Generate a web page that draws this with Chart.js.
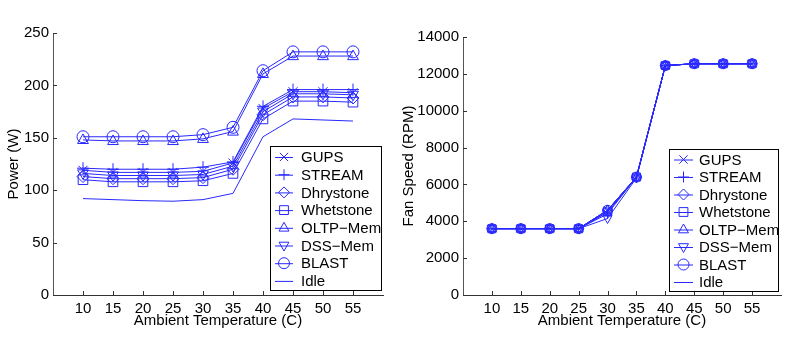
<!DOCTYPE html>
<html>
<head>
<meta charset="utf-8">
<script src="https://cdn.jsdelivr.net/npm/chart.js@4/dist/chart.umd.min.js"></script>
<style>
  html, body { margin: 0; padding: 0; background: #fff; }
  .wrap { position: absolute; top: 0; width: 400px; height: 342px; }
</style>
</head>
<body>
<div class="wrap" style="left:0"><canvas id="powerChart" width="400" height="342"></canvas></div>
<div class="wrap" style="left:400px"><canvas id="fanChart" width="400" height="342"></canvas></div>
<script>
const temps = [10, 15, 20, 25, 30, 35, 40, 45, 50, 55];
const seriesNames = ["GUPS", "STREAM", "Dhrystone", "Whetstone", "OLTP\u2212Mem", "DSS\u2212Mem", "BLAST", "Idle"];
const powerTicks = [0, 50, 100, 150, 200, 250];
const fanTicks = [0, 2000, 4000, 6000, 8000, 10000, 12000, 14000];

// power (W)
const powerGUPS      = [119, 117, 117, 117, 118, 126, 178, 194, 194, 193];
const powerSTREAM    = [121, 120, 120, 120, 122, 127, 180, 196, 196, 196];
const powerDhrystone = [113, 111, 111, 111, 112, 120, 172, 189, 189, 188];
const powerWhetstone = [110, 108, 108, 108, 109, 116, 168, 185, 185, 184];
const powerOLTP      = [148, 147, 147, 147, 149, 156, 211, 228, 228, 228];
const powerDSS       = [116, 114, 114, 114, 115, 123, 175, 192, 192, 191];
const powerBLAST     = [151, 151, 151, 151, 153, 160, 214, 232, 232, 232];
const powerIdle      = [92, 91, 90, 89.5, 91, 97, 151, 168, 167, 166];

// fan speed (RPM)
const fanGUPS      = [3600, 3600, 3600, 3600, 4600, 6400, 12450, 12550, 12550, 12550];
const fanSTREAM    = [3600, 3600, 3600, 3600, 4400, 6400, 12450, 12550, 12550, 12550];
const fanDhrystone = [3600, 3600, 3600, 3600, 4600, 6400, 12450, 12550, 12550, 12550];
const fanWhetstone = [3600, 3600, 3600, 3600, 4500, 6400, 12450, 12550, 12550, 12550];
const fanOLTP      = [3600, 3600, 3600, 3600, 4600, 6400, 12450, 12550, 12550, 12550];
const fanDSS       = [3600, 3600, 3600, 3600, 4150, 6350, 12450, 12550, 12550, 12550];
const fanBLAST     = [3600, 3600, 3600, 3600, 4600, 6400, 12450, 12550, 12550, 12550];
const fanIdle      = [3600, 3600, 3600, 3600, 4500, 6400, 12450, 12550, 12550, 12550];

const markerStyles = ["crossRot", "cross", "diamond", "square", "triUp", "triDown", "circle", "none"];
const BLUE = "rgb(40,40,255)";
const FONT = { family: "'Liberation Sans', Arial, Helvetica, sans-serif", size: 15 };

function drawMarker(ctx, style, x, y, r) {
    ctx.beginPath();
    if (style === "circle") {
        ctx.arc(x, y, r, 0, Math.PI * 2);
    } else if (style === "square") {
        const s = r * 0.8;
        ctx.rect(x - s, y - s, 2 * s, 2 * s);
    } else if (style === "diamond") {
        ctx.moveTo(x, y - r); ctx.lineTo(x + r, y); ctx.lineTo(x, y + r); ctx.lineTo(x - r, y); ctx.closePath();
    } else if (style === "triUp") {
        ctx.moveTo(x, y - r); ctx.lineTo(x + r * 0.9, y + r * 0.6); ctx.lineTo(x - r * 0.9, y + r * 0.6); ctx.closePath();
    } else if (style === "triDown") {
        ctx.moveTo(x, y + r); ctx.lineTo(x + r * 0.9, y - r * 0.6); ctx.lineTo(x - r * 0.9, y - r * 0.6); ctx.closePath();
    } else if (style === "cross") {
        ctx.moveTo(x - r, y); ctx.lineTo(x + r, y); ctx.moveTo(x, y - r); ctx.lineTo(x, y + r);
    } else if (style === "crossRot") {
        const s = r * 0.75;
        ctx.moveTo(x - s, y - s); ctx.lineTo(x + s, y + s); ctx.moveTo(x - s, y + s); ctx.lineTo(x + s, y - s);
    }
    ctx.stroke();
}

// markers drawn by hand so the down triangle and open shapes look like MATLAB
const markerPlugin = {
    id: "markers",
    afterDatasetsDraw(chart) {
        const ctx = chart.ctx;
        const r = chart.options.plugins.markers.radius;
        ctx.save();
        ctx.strokeStyle = BLUE;
        ctx.lineWidth = 1;
        chart.data.datasets.forEach((ds, i) => {
            const style = markerStyles[i];
            if (style === "none") return;
            chart.getDatasetMeta(i).data.forEach(pt => drawMarker(ctx, style, pt.x, pt.y, r));
        });
        ctx.restore();
    }
};

// inward tick marks
const innerTicks = {
    id: "innerTicks",
    afterDraw(chart) {
        const ctx = chart.ctx;
        const xs = chart.scales.x, ys = chart.scales.y;
        ctx.save();
        ctx.strokeStyle = "#333";
        ctx.lineWidth = 1;
        ctx.beginPath();
        ys.ticks.forEach(t => {
            const py = Math.round(ys.getPixelForValue(t.value)) + 0.5;
            ctx.moveTo(xs.left, py); ctx.lineTo(xs.left + 4, py);
        });
        xs.ticks.forEach(t => {
            const px = Math.round(xs.getPixelForValue(t.value)) + 0.5;
            ctx.moveTo(px, ys.bottom); ctx.lineTo(px, ys.bottom - 4);
        });
        ctx.stroke();
        ctx.restore();
    }
};

const legendBox = {
    id: "legendBox",
    afterDraw(chart) {
        const o = chart.options.plugins.legendBox;
        const ctx = chart.ctx;
        ctx.save();
        ctx.fillStyle = "#fff";
        ctx.fillRect(o.x, o.y, o.w, o.h);
        ctx.strokeStyle = "#000";
        ctx.lineWidth = 1;
        ctx.strokeRect(o.x + 0.5, o.y + 0.5, o.w, o.h);
        ctx.font = FONT.size + "px " + FONT.family;
        ctx.textBaseline = "middle";
        ctx.textAlign = "left";
        chart.data.datasets.forEach((ds, i) => {
            const cy = o.firstRow + i * o.step;
            ctx.strokeStyle = BLUE;
            ctx.beginPath();
            ctx.moveTo(o.lineX0, cy + 0.5); ctx.lineTo(o.lineX1, cy + 0.5);
            ctx.stroke();
            if (markerStyles[i] !== "none") {
                drawMarker(ctx, markerStyles[i], (o.lineX0 + o.lineX1) / 2, cy, o.radius);
            }
            ctx.fillStyle = "#000";
            ctx.fillText(ds.label, o.textX, cy + 1);
        });
        ctx.restore();
    }
};

function makeDatasets(values) {
    return values.map((vals, i) => ({
        label: seriesNames[i],
        data: temps.map((t, j) => ({ x: t, y: vals[j] })),
        borderColor: BLUE,
        borderWidth: 1,
        pointRadius: 0,
        tension: 0,
        fill: false
    }));
}

function makeChart(id, values, yTicks, yTitle, geom) {
    const ctx = document.getElementById(id).getContext("2d");
    new Chart(ctx, {
        type: "line",
        data: { datasets: makeDatasets(values) },
        options: {
            responsive: false,
            animation: false,
            layout: { padding: { left: 0, right: geom.right, top: geom.top, bottom: 0 } },
            plugins: {
                legend: { display: false },
                tooltip: { enabled: false },
                markers: { radius: geom.markerR },
                legendBox: geom.legend
            },
            scales: {
                x: {
                    type: "linear",
                    min: 5,
                    max: 60,
                    afterBuildTicks: s => { s.ticks = temps.map(v => ({ value: v })); },
                    afterFit: s => { s.height = 342 - geom.bottomAxis; },
                    ticks: { color: "#000", font: FONT, padding: 5, maxRotation: 0, autoSkip: false },
                    grid: { display: false, drawTicks: false },
                    border: { display: true, color: "#333", width: 1 },
                    title: { display: true, text: "Ambient Temperature (C)", color: "#000", font: FONT, padding: { top: 0, bottom: 12 } }
                },
                y: {
                    min: yTicks[0],
                    max: yTicks[yTicks.length - 1],
                    afterBuildTicks: s => { s.ticks = yTicks.map(v => ({ value: v })); },
                    afterFit: s => { s.width = geom.axisW; },
                    ticks: { color: "#000", font: FONT, padding: 4, callback: v => String(v) },
                    grid: { display: false, drawTicks: false },
                    border: { display: true, color: "#555", width: 1 },
                    title: { display: true, text: yTitle, color: "#000", font: FONT, padding: { top: geom.yTitlePad, bottom: 0 } }
                }
            }
        },
        plugins: [markerPlugin, innerTicks, legendBox]
    });
}

makeChart("powerChart",
    [powerGUPS, powerSTREAM, powerDhrystone, powerWhetstone, powerOLTP, powerDSS, powerBLAST, powerIdle],
    powerTicks, "Power (W)",
    { right: 17, top: 33, bottomAxis: 295, axisW: 53, yTitlePad: 5, markerR: 6,
      legend: { x: 270, y: 146, w: 111, h: 144, firstRow: 157, step: 17.7, lineX0: 275, lineX1: 293, textX: 301, radius: 5.5 } });

makeChart("fanChart",
    [fanGUPS, fanSTREAM, fanDhrystone, fanWhetstone, fanOLTP, fanDSS, fanBLAST, fanIdle],
    fanTicks, "Fan Speed (RPM)",
    { right: 19, top: 37, bottomAxis: 295, axisW: 63, yTitlePad: 0, markerR: 5,
      legend: { x: 269, y: 149, w: 109, h: 142, firstRow: 159.5, step: 17.5, lineX0: 274, lineX1: 293, textX: 299, radius: 5.5 } });
</script>
</body>
</html>
